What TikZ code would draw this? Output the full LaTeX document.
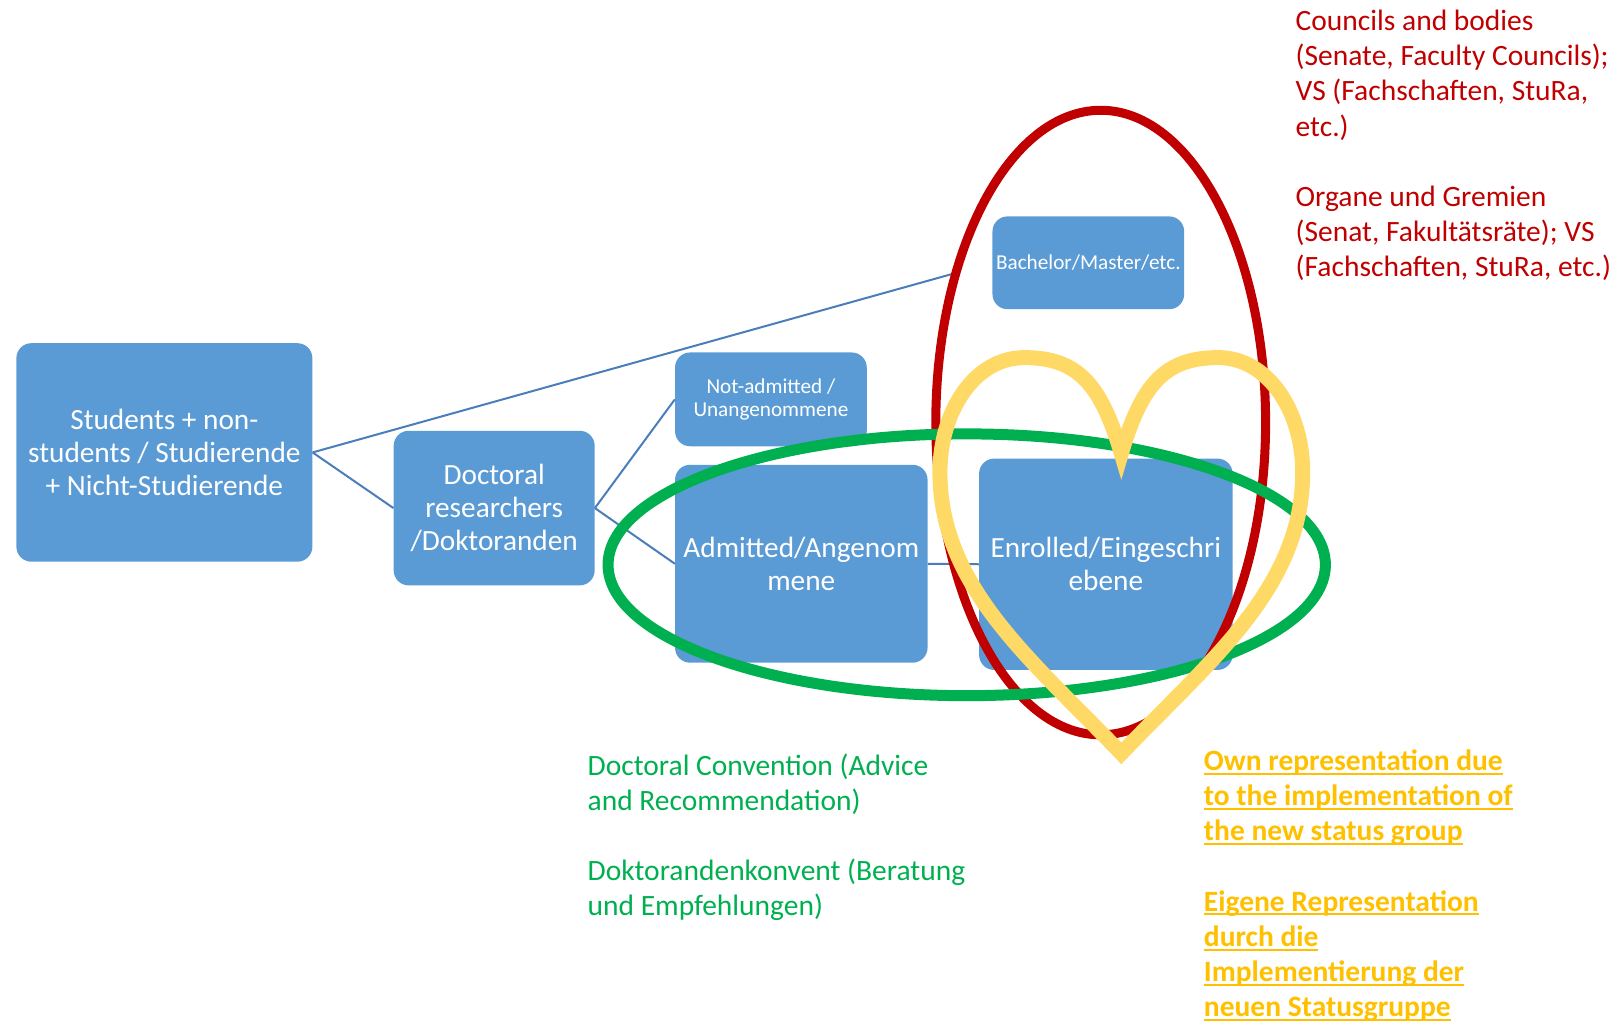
\documentclass[tikz,border=0pt]{standalone}
\usepackage{fontspec}
\setmainfont{Carlito}
\definecolor{boxblue}{HTML}{5B9BD5}
\definecolor{linkblue}{HTML}{4A7EBB}
\definecolor{bodygreen}{HTML}{00B050}
\definecolor{bodyred}{HTML}{C00000}
\definecolor{heartyellow}{HTML}{FFD966}
\definecolor{textyellow}{HTML}{FFC000}
\tikzset{
  box/.style={fill=boxblue, text=white, rounded corners=15pt, align=center, inner sep=0pt},
  link/.style={linkblue, line width=2pt},
  bigtext/.style={font=\fontsize{29.3}{33}\selectfont},
  smalltext/.style={font=\fontsize{21.2}{22.7}\selectfont},
  note/.style={anchor=north west, align=left, inner sep=0pt, font=\fontsize{29.5}{35.2}\selectfont},
}
\newcommand{\ulline}[1]{\setbox0\hbox{#1}\rlap{\rule[-4.4pt]{\wd0}{2pt}}\box0}
\begin{document}
\begin{tikzpicture}[x=1.0306pt,y=-1.0306pt]
        \useasboundingbox (0,0) rectangle (1568,990.7);
        % boxes
        \node[box, bigtext, minimum width=296pt, minimum height=218.5pt] (students) at (159.5,439) {Students + non-\\students / Studierende\\+ Nicht-Studierende};
        \node[box, bigtext, minimum width=201pt, minimum height=154.6pt] (doctoral) at (479.5,493) {Doctoral\\researchers\\/Doktoranden};
        \node[box, smalltext, minimum width=191.7pt, minimum height=92.8pt] (bachelor) at (1056,255) {Bachelor/Master/etc.};
        \node[box, smalltext, minimum width=191.7pt, minimum height=93.8pt] (notadmitted) at (748,387.5) {Not-admitted /\\Unangenommene};
        \node[box, bigtext, minimum width=252.5pt, minimum height=197.9pt] (admitted) at (777.5,547) {Admitted/Angenom\\mene};
        \node[box, bigtext, minimum width=253.5pt, minimum height=211.3pt] (enrolled) at (1073,547.5) {Enrolled/Eingeschri\\ebene};

        \draw[link, shorten >=34pt] (students.east) -- (bachelor.west);
        \draw[link] (students.east) -- (doctoral.west);
        \draw[link] (doctoral.east) -- (notadmitted.west);
        \draw[link] (doctoral.east) -- (admitted.west);
        \draw[link] (admitted.east) -- (enrolled.west);

        % bodies
        \draw[bodyred, line width=9pt] (1068,410) ellipse [x radius=160, y radius=303];
        \draw[bodygreen, line width=11pt] (938,548) ellipse [x radius=348, y radius=127];
        \draw[heartyellow, line width=15pt, line join=miter] (1088,440)
          .. controls (1068,372) and (1045,347) .. (994,347)
          .. controls (945,347) and (912,400) .. (912,458)
          .. controls (912,570) and (1001,640) .. (1088,731)
          .. controls (1175,640) and (1264,570) .. (1264,458)
          .. controls (1264,400) and (1231,347) .. (1182,347)
          .. controls (1131,347) and (1108,372) .. cycle;

        % notes
        \node[note, text=bodyred] (gremien) at (1257,9.5) {Councils and bodies\\(Senate, Faculty Councils);\\VS (Fachschaften, StuRa,\\etc.)\\[35.2pt]Organe und Gremien\\(Senat, Fakultätsräte); VS\\(Fachschaften, StuRa, etc.)};
        \node[note, text=bodygreen] (konvent) at (570,731) {Doctoral Convention (Advice\\and Recommendation)\\[35.2pt]Doktorandenkonvent (Beratung\\und Empfehlungen)};
        \node[note, text=textyellow, font=\fontsize{29.5}{35.2}\selectfont\bfseries] (eigene) at (1168,727) {\ulline{Own representation due}\\\ulline{to the implementation of}\\\ulline{the new status group}\\[35.2pt]\ulline{Eigene Representation}\\\ulline{durch die}\\\ulline{Implementierung der}\\\ulline{neuen Statusgruppe}};

      \end{tikzpicture}
\end{document}
